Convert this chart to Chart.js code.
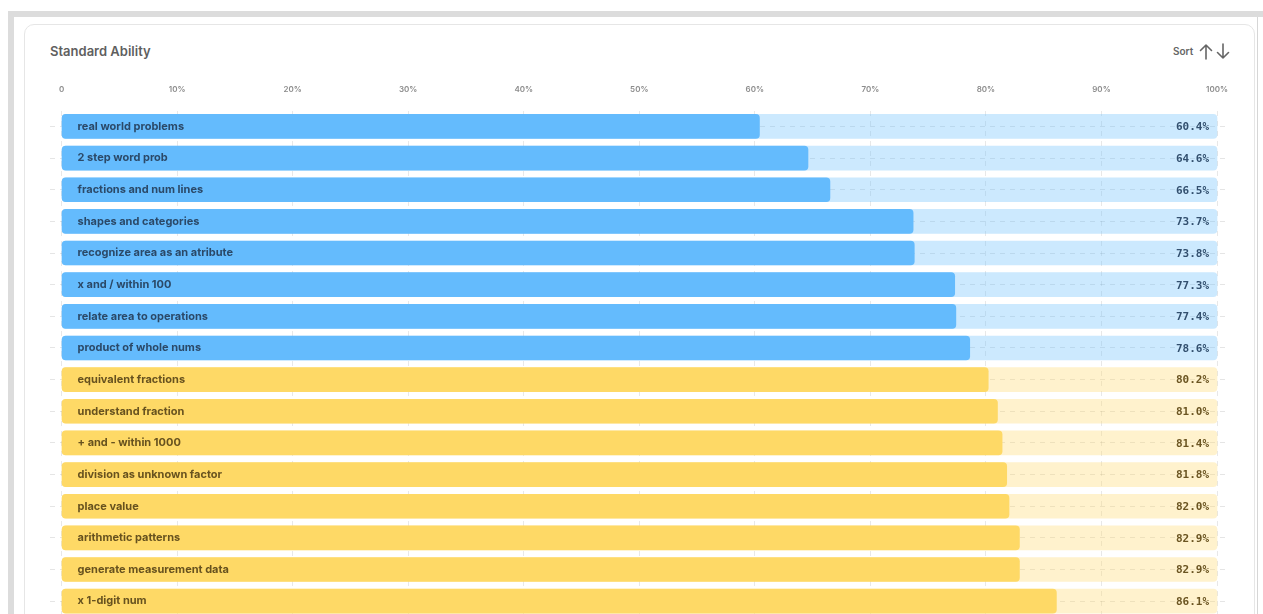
<!DOCTYPE html>
<html>
<head>
<meta charset="utf-8">
<script src="https://cdn.jsdelivr.net/npm/chart.js@4.4.0/dist/chart.umd.min.js"></script>
<style>
    html, body { margin: 0; padding: 0; width: 1263px; height: 614px; overflow: hidden; background: #fff; font-family: Inter, "Noto Sans", sans-serif; }
    .frame-top { position: absolute; left: 8px; top: 11px; width: 1255px; height: 6px; background: #dcdcdc; }
    .frame-left { position: absolute; left: 8px; top: 11px; width: 6px; height: 603px; background: #dcdcdc; }
    .frame-right { position: absolute; left: 1257px; top: 17px; width: 1px; height: 597px; background: #d6d6d6; }
    .card { position: absolute; left: 24px; top: 24px; width: 1229px; height: 640px; border: 1px solid #e6e6e6; border-radius: 10px; background: #fff; }
    .title { position: absolute; left: 50px; top: 43px; font-size: 13px; font-weight: 600; color: #5f5f5f; }
    .sort { position: absolute; left: 1173px; top: 45px; font-size: 10px; font-weight: 600; color: #666; }
    .arrows { position: absolute; left: 1199px; top: 43px; }
    #chart-wrap { position: absolute; left: 40px; top: 69px; width: 1204px; height: 548px; }
</style>
</head>
<body>
<div class="frame-top"></div>
<div class="frame-left"></div>
<div class="frame-right"></div>
<div class="card"></div>
<div class="title">Standard Ability</div>
<div class="sort">Sort</div>
<svg class="arrows" width="32" height="17" viewBox="0 0 32 17">
    <g fill="none" stroke="#666" stroke-width="1.6" stroke-linecap="round" stroke-linejoin="round">
        <path d="M7 2 L7 16 M1.5 7.5 L7 2 L12.5 7.5"/>
        <path d="M24 1 L24 15 M18.5 9.5 L24 15 L29.5 9.5"/>
    </g>
</svg>
<div id="chart-wrap"><canvas id="abilityChart"></canvas></div>

<script>
// standard ability chart

const skills = [
    'real world problems', '2 step word prob', 'fractions and num lines', 'shapes and categories',
    'recognize area as an atribute', 'x and / within 100', 'relate area to operations', 'product of whole nums',
    'equivalent fractions', 'understand fraction', '+ and - within 1000', 'division as unknown factor',
    'place value', 'arithmetic patterns', 'generate measurement data', 'x 1-digit num'
];

const scores = [60.4, 64.6, 66.5, 73.7, 73.8, 77.3, 77.4, 78.6, 80.2, 81.0, 81.4, 81.8, 82.0, 82.9, 82.9, 86.1];

const xTicks = [0, 10, 20, 30, 40, 50, 60, 70, 80, 90, 100];

const MASTERY = 80;

const isLow = (v) => v < MASTERY;

const barColor = (v) => isLow(v) ? 'rgb(100, 187, 253)' : 'rgb(254, 217, 102)';
const trackColor = (v) => isLow(v) ? 'rgba(100, 187, 253, 0.33)' : 'rgba(254, 217, 102, 0.33)';

// labels inside bars + value at the end of the track
const barText = {
    id: 'barText',
    afterDatasetsDraw(chart) {
        const { ctx, scales: { x } } = chart;
        const meta = chart.getDatasetMeta(0);
        const left = x.getPixelForValue(0);
        const right = x.getPixelForValue(100);
        ctx.save();
        ctx.textBaseline = 'middle';
        meta.data.forEach((bar, i) => {
            const low = isLow(scores[i]);
            ctx.fillStyle = low ? '#2b4968' : '#67521f';
            ctx.font = 'bold 11px Inter, "Noto Sans", sans-serif';
            ctx.textAlign = 'left';
            ctx.fillText(skills[i], left + 16, bar.y);
            ctx.fillStyle = low ? '#33506f' : '#6b5522';
            ctx.font = 'bold 11px "DejaVu Sans Mono", monospace';
            ctx.textAlign = 'right';
            ctx.fillText(scores[i].toFixed(1) + '%', right - 8, bar.y + 1);
        });
        ctx.restore();
    }
};

const ctx = document.getElementById('abilityChart').getContext('2d');

new Chart(ctx, {
    type: 'bar',
    data: {
        labels: skills,
        datasets: [
            {
                label: 'Score',
                data: scores,
                backgroundColor: scores.map(barColor),
                borderRadius: 4,
                borderSkipped: false,
                barThickness: 24,
                grouped: false
            },
            {
                label: 'Track',
                data: scores.map(() => 100),
                backgroundColor: scores.map(trackColor),
                borderRadius: 4,
                borderSkipped: false,
                barThickness: 24,
                grouped: false
            }
        ]
    },
    options: {
        indexAxis: 'y',
        responsive: true,
        maintainAspectRatio: false,
        animation: false,
        layout: { padding: { left: 10, right: 0, top: 0, bottom: 0 } },
        plugins: {
            legend: { display: false },
            tooltip: { enabled: false }
        },
        scales: {
            x: {
                position: 'top',
                min: -1,
                max: 101,
                afterBuildTicks: (scale) => {
                    scale.ticks = xTicks.map(v => ({ value: v }));
                },
                grid: {
                    color: 'rgba(0, 0, 0, 0.09)',
                    drawTicks: false
                },
                border: { display: false, dash: [5, 5] },
                ticks: {
                    padding: 16,
                    color: '#8c8c8c',
                    font: { family: 'Inter', size: 8, weight: '600' },
                    callback: (v) => v === 0 ? '0' : v + '%'
                }
            },
            y: {
                grid: {
                    offset: false,
                    color: 'rgba(0, 0, 0, 0.1)',
                    drawTicks: false
                },
                border: { display: false, dash: [5, 5] },
                ticks: { display: false }
            }
        }
    },
    plugins: [barText]
});
</script>
</body>
</html>
